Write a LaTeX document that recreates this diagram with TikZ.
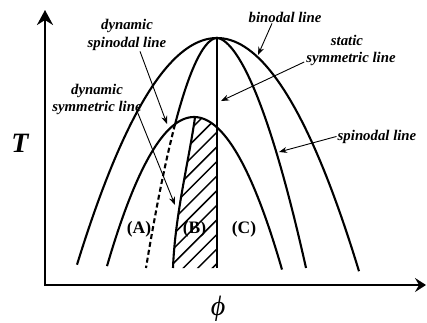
\documentclass[tikz,border=0pt]{standalone}
\usepackage{fontspec}
\setmainfont{Liberation Serif}
\usetikzlibrary{arrows.meta,calc}
\begin{document}
\begin{tikzpicture}[x=1pt,y=-1pt,
  curve/.style={line width=2.1pt},
  axisline/.style={line width=2.4pt},
  note/.style={font=\fontsize{14.8}{17}\selectfont\bfseries\itshape, inner sep=1pt, anchor=base},
  region/.style={font=\fontsize{17.5}{20}\selectfont\bfseries, inner sep=0pt, anchor=base},
  ptr/.style={line width=0.9pt,-{Stealth[length=8pt,width=6pt]}},
  hatchline/.style={line width=1.5pt}]
\useasboundingbox (0,0) rectangle (427,322);

% axes
\coordinate (O) at (45,285);
\coordinate (Ytop) at (45,10);
\coordinate (Xend) at (426,285);
\draw[axisline,{Stealth[length=15pt,width=16pt,inset=5pt]}-{Stealth[length=11pt,width=14pt,inset=4pt]}] (Ytop) -- (O) -- (Xend);

% binodal line
\draw[curve] plot[domain=77:359, samples=80] (\x, {38+0.01157*(\x-217)*(\x-217)});
% inner dome
\draw[curve] plot[domain=107:282, samples=80] (\x, {117+0.0197*(\x-194)*(\x-194)});
% spinodal right branch
\coordinate (apex) at (217,38);
\draw[curve] (apex) -- plot[domain=0.001:15.166, samples=60] ({217+3.80*(\x)^1.16}, {38+\x*\x});
% spinodal left branch (solid part)
\draw[curve] (apex) -- plot[domain=0.001:9.3, samples=50] ({217-3.83*(\x)^1.074}, {38+\x*\x});
% dynamic spinodal (dashed part)
\draw[curve, dash pattern=on 5pt off 3pt] plot[domain=9.3:15.166, samples=40] ({217-3.83*(\x)^1.074}, {38+\x*\x});

% hatched region
\begin{scope}
  \clip (173,268) .. controls (175,215) and (189,160) .. (195,117.3)
     -- plot[domain=195:217, samples=20] (\x, {117+0.0197*(\x-194)*(\x-194)})
     -- (217,268) -- cycle;
  \foreach \c in {305.3,319.9,...,500} \draw[hatchline] (150,\c-150) -- (230,\c-230);
\end{scope}
% dynamic symmetric line
\draw[curve] (173,268) .. controls (175,215) and (189,160) .. (195,117.3);
% static symmetric line
\coordinate (sbot) at (217,268);
\draw[curve] (apex) -- (sbot);

% labels
\node[note] (bin) at (285,22) {binodal line};
\node[note] (ss1) at (347,45) {static};
\node[note] (ss2) at (351,62) {symmetric line};
\node[note] (spr) at (377,140) {spinodal line};
\node[note] (ds1) at (127,29) {dynamic};
\node[note] (ds2) at (127,47) {spinodal line};
\node[note] (dy1) at (97,94) {dynamic};
\node[note] (dy2) at (97,111) {symmetric line};

\node[region] (ra) at (139,233) {(A)};
\node[region] (rb) at (194.5,233) {(B)};
\node[region] (rc) at (244,233) {(C)};

\node[font=\fontsize{28}{30}\selectfont\bfseries\itshape, anchor=base, inner sep=0pt] (tl) at (20,152) {T};
\node[font=\fontsize{28}{30}\selectfont\itshape, inner sep=0pt] (pl) at (218,309) {ϕ};

% pointers
\coordinate (tB) at (258,55);
\coordinate (tS) at (221,101);
\coordinate (tSp) at (279,152);
\coordinate (tDS) at (167,124);
\coordinate (tDY) at (175,205);
\draw[ptr] ([xshift=-13pt]bin.south) -- (tB);
\draw[ptr] ([xshift=-1pt]ss2.base west) -- (tS);
\draw[ptr] (spr.west) -- (tSp);
\draw[ptr] ([xshift=13pt]ds2.south) -- (tDS);
\draw[ptr] ([xshift=40pt]dy2.base) -- (tDY);
\end{tikzpicture}
\end{document}
